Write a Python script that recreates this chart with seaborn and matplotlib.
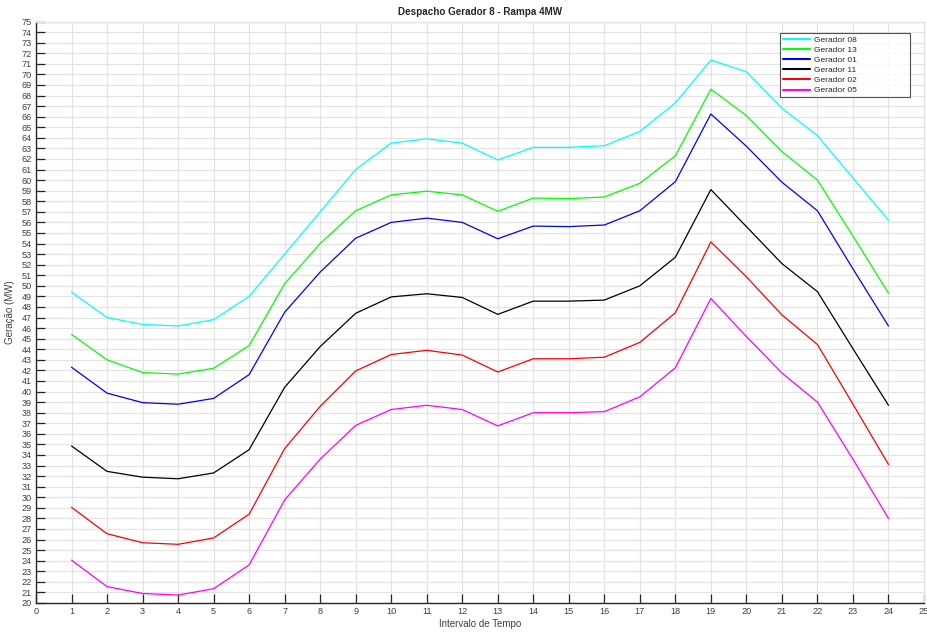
import numpy as np
import pandas as pd
import matplotlib
matplotlib.use("Agg")
import matplotlib.pyplot as plt
import seaborn as sns

# dados
intervalos = list(range(1, 25))

ger08 = [49.4, 47.0, 46.35, 46.2, 46.8, 49.0, 53.0, 57.0, 61.0, 63.5, 63.9, 63.5,
         61.9, 63.1, 63.1, 63.25, 64.6, 67.3, 71.35, 70.25, 66.8, 64.2, 60.2, 56.2]
ger13 = [45.4, 43.0, 41.8, 41.65, 42.2, 44.35, 50.2, 54.0, 57.1, 58.6, 58.95, 58.6,
         57.05, 58.3, 58.25, 58.4, 59.7, 62.3, 68.6, 66.1, 62.7, 60.0, 54.7, 49.3]
ger01 = [42.3, 39.85, 38.95, 38.8, 39.35, 41.6, 47.5, 51.3, 54.5, 56.0, 56.4, 56.0,
         54.45, 55.65, 55.6, 55.75, 57.1, 59.85, 66.25, 63.2, 59.8, 57.1, 51.6, 46.2]
ger11 = [34.85, 32.45, 31.9, 31.75, 32.3, 34.5, 40.4, 44.25, 47.4, 48.95, 49.25, 48.9,
         47.3, 48.55, 48.55, 48.65, 50.0, 52.7, 59.1, 55.6, 52.1, 49.45, 44.05, 38.7]
ger02 = [29.05, 26.55, 25.7, 25.55, 26.15, 28.4, 34.6, 38.6, 41.95, 43.5, 43.9, 43.45,
         41.85, 43.1, 43.1, 43.25, 44.65, 47.45, 54.15, 50.85, 47.25, 44.45, 38.8, 33.1]
ger05 = [24.05, 21.55, 20.9, 20.75, 21.35, 23.6, 29.75, 33.6, 36.8, 38.3, 38.7, 38.3,
         36.75, 38.0, 38.0, 38.1, 39.5, 42.25, 48.8, 45.2, 41.75, 39.0, 33.6, 28.0]

nomes = ["Gerador 08", "Gerador 13", "Gerador 01", "Gerador 11", "Gerador 02", "Gerador 05"]
series = [ger08, ger13, ger01, ger11, ger02, ger05]
cores = ["#00ffff", "#00ff00", "#0000ff", "#000000", "#ff0000", "#ff00ff"]

df = pd.DataFrame({
    "Intervalo": intervalos * len(nomes),
    "Geracao": sum(series, []),
    "Gerador": np.repeat(nomes, len(intervalos)),
})

sns.set_style("whitegrid")
plt.rcParams["font.family"] = ["Liberation Sans", "DejaVu Sans"]

fig = plt.figure(figsize=(9.28, 6.33), dpi=100)
ax = fig.add_axes([36 / 928, 30 / 633, 888 / 928, 581.5 / 633])

sns.lineplot(data=df, x="Intervalo", y="Geracao", hue="Gerador", hue_order=nomes,
             palette=dict(zip(nomes, cores)), linewidth=0.9, ax=ax)

ax.set_xlim(0, 25)
ax.set_ylim(20, 75)
ax.set_xticks(range(0, 26))
ax.set_yticks(range(20, 76))
ax.grid(True, color="#e3e3e3", linewidth=0.9)
ax.set_axisbelow(True)
for nome, s in ax.spines.items():
    s.set_visible(True)
    if nome in ("left", "bottom"):
        s.set_color("#262626")
        s.set_linewidth(1.0)
    else:
        s.set_color("#e3e3e3")
        s.set_linewidth(0.9)
ax.tick_params(axis="both", direction="in", length=6.5, width=0.9, color="#262626",
               labelsize=6.6, labelcolor="#404040", pad=3,
               left=True, bottom=True, top=False, right=False)

ax.set_title("Despacho Gerador 8 - Rampa 4MW", fontsize=7.1, fontweight="bold", pad=5)
ax.set_xlabel("Intervalo de Tempo", fontsize=7.0, color="#404040", labelpad=2)
ax.set_ylabel("Geração (MW)", fontsize=7.0, color="#404040", labelpad=5)

leg = ax.legend(loc="upper left", bbox_to_anchor=(0.838, 0.0, 0.146, 0.98), mode="expand",
                borderaxespad=0, fontsize=6.0, frameon=True, fancybox=False,
                handlelength=3.3, labelspacing=0.28, borderpad=0.32, handletextpad=0.4)
leg.get_frame().set_edgecolor("#262626")
leg.get_frame().set_linewidth(0.8)
for line in leg.get_lines():
    line.set_linewidth(1.5)

fig.savefig("out.png", dpi=100)
